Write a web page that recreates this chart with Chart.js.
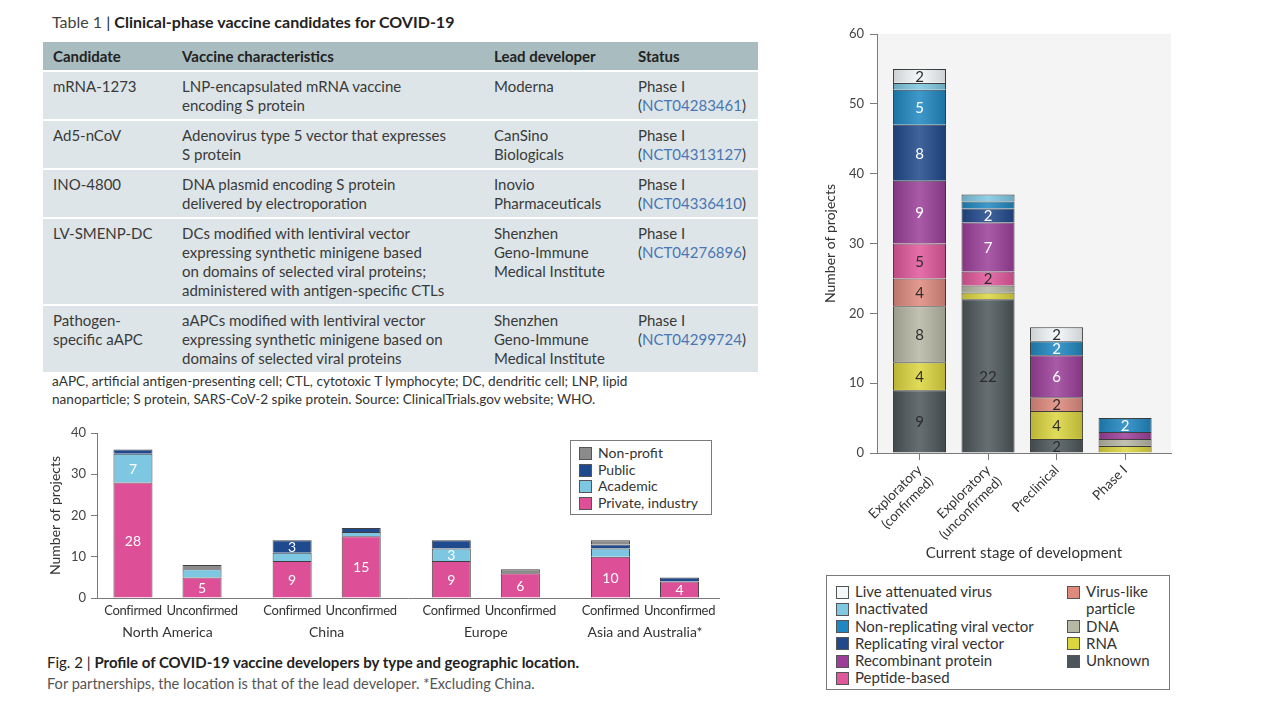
<!DOCTYPE html>
<html>
<head>
<meta charset="utf-8">
<script src="https://cdn.jsdelivr.net/npm/chart.js@4.4.1/dist/chart.umd.min.js"></script>
<style>
  body { margin: 0; width: 1280px; height: 720px; background: #fff; position: relative; overflow: hidden;
         font-family: Lato, "Open Sans", sans-serif; color: #3a3a3a; }
  .abs { position: absolute; }
  #t1title { left: 52px; top: 12px; font-size: 16px; color: #222; white-space: nowrap; }
  #t1title .lt { color: #444; }
  #t1 { left: 43px; top: 42px; width: 715px; border-collapse: separate; border-spacing: 0; font-size: 15px; line-height: 19px; }
  #t1 th { background: #a9bdc1; text-align: left; font-weight: bold; color: #222; height: 28px; padding: 0 0 0 10px; }
  #t1 td { background: #dde5e8; vertical-align: top; padding: 5px 4px 4px 10px; border-top: 2px solid #fff; white-space: nowrap; }
  #t1 .nct { color: #4a76b3; }
  #foot { left: 52px; top: 372px; font-size: 13.6px; line-height: 18px; color: #333; white-space: nowrap; }
  #cap { left: 47px; top: 652px; font-size: 15px; line-height: 21px; color: #222; white-space: nowrap; }
  #cap .sub { color: #555; font-size: 14.6px; }
  #leftChart { left: 40px; top: 420px; }
  #rightChart { left: 800px; top: 20px; }
  .legend { border: 1px solid #7a7a7a; box-sizing: border-box; background: #fff; color: #333; }
  .legend .item { display: flex; align-items: flex-start; }
  .legend .sw { width: 11px; height: 11px; border: 1px solid #555; flex: none; margin-right: 6px; }
  #devLegend { left: 570px; top: 440px; width: 142px; height: 75px; padding: 4px 0 0 8px; font-size: 14px; line-height: 16.5px; }
  #devLegend .sw { margin-top: 2px; }
  #typeLegend { left: 826px; top: 575px; width: 344px; height: 115px; padding: 7px 0 0 9px; font-size: 15px; line-height: 17.3px;
                display: flex; }
  #typeLegend .sw { margin-top: 2.5px; }
  #typeLegend .col1 { width: 231px; }
  #typeLegend .col2 { width: 98px; }
</style>
</head>
<body>

<div id="t1title" class="abs"><span class="lt">Table 1</span> | <b>Clinical-phase vaccine candidates for COVID-19</b></div>
<table id="t1" class="abs">
  <colgroup><col style="width:129px"><col style="width:312px"><col style="width:144px"><col style="width:130px"></colgroup>
  <tr><th>Candidate</th><th>Vaccine characteristics</th><th>Lead developer</th><th>Status</th></tr>
  <tr><td>mRNA-1273</td><td>LNP-encapsulated mRNA vaccine<br>encoding S protein</td><td>Moderna</td><td>Phase I<br>(<span class="nct">NCT04283461</span>)</td></tr>
  <tr><td>Ad5-nCoV</td><td>Adenovirus type 5 vector that expresses<br>S protein</td><td>CanSino<br>Biologicals</td><td>Phase I<br>(<span class="nct">NCT04313127</span>)</td></tr>
  <tr><td>INO-4800</td><td>DNA plasmid encoding S protein<br>delivered by electroporation</td><td>Inovio<br>Pharmaceuticals</td><td>Phase I<br>(<span class="nct">NCT04336410</span>)</td></tr>
  <tr><td>LV-SMENP-DC</td><td>DCs modified with lentiviral vector<br>expressing synthetic minigene based<br>on domains of selected viral proteins;<br>administered with antigen-specific CTLs</td><td>Shenzhen<br>Geno-Immune<br>Medical Institute</td><td>Phase I<br>(<span class="nct">NCT04276896</span>)</td></tr>
  <tr><td>Pathogen-<br>specific aAPC</td><td>aAPCs modified with lentiviral vector<br>expressing synthetic minigene based on<br>domains of selected viral proteins</td><td>Shenzhen<br>Geno-Immune<br>Medical Institute</td><td>Phase I<br>(<span class="nct">NCT04299724</span>)</td></tr>
</table>
<div id="foot" class="abs">aAPC, artificial antigen-presenting cell; CTL, cytotoxic T lymphocyte; DC, dendritic cell; LNP, lipid<br>nanoparticle; S protein, SARS-CoV-2 spike protein. Source: ClinicalTrials.gov website; WHO.</div>

<canvas id="leftChart" class="abs" width="690" height="232"></canvas>
<div id="devLegend" class="abs legend"></div>
<div id="cap" class="abs">Fig. 2 | <b>Profile of COVID-19 vaccine developers by type and geographic location.</b><br><span class="sub">For partnerships, the location is that of the lead developer. *Excluding China.</span></div>

<canvas id="rightChart" class="abs" width="390" height="550"></canvas>
<div id="typeLegend" class="abs legend"><div class="col1"></div><div class="col2"></div></div>

<script>
// ---- Fig. 2: developers by type and location ----
const regions = ['North America', 'China', 'Europe', 'Asia and Australia*'];
const statuses = ['Confirmed', 'Unconfirmed'];
const devTypes = ['Private, industry', 'Academic', 'Public', 'Non-profit'];   // bottom to top
const privateConfirmed     = [28, 9, 9, 10];
const privateUnconfirmed   = [5, 15, 6, 4];
const academicConfirmed    = [7, 2, 3, 2];
const academicUnconfirmed  = [2, 1, 0, 0];
const publicConfirmed      = [1, 3, 2, 1];
const publicUnconfirmed    = [0, 1, 0, 1];
const nonProfitConfirmed   = [0, 0, 0, 1];
const nonProfitUnconfirmed = [1, 0, 1, 0];
const devTicks = [0, 10, 20, 30, 40];

// ---- Stage of development by vaccine type ----
const stages = [['Exploratory', '(confirmed)'], ['Exploratory', '(unconfirmed)'], 'Preclinical', 'Phase I'];
const vaccineTypes = ['Unknown', 'RNA', 'DNA', 'Virus-like particle', 'Peptide-based', 'Recombinant protein',
                      'Replicating viral vector', 'Non-replicating viral vector', 'Inactivated', 'Live attenuated virus'];
const unknownType    = [9, 22, 2, 0];
const rnaType        = [4, 1, 4, 1];
const dnaType        = [8, 1, 0, 1];
const vlpType        = [4, 0, 2, 0];
const peptideType    = [5, 2, 0, 0];
const recombinant    = [9, 7, 6, 1];
const replicating    = [8, 2, 0, 0];
const nonReplicating = [5, 1, 2, 2];
const inactivated    = [1, 1, 0, 0];
const liveAttenuated = [2, 0, 2, 0];
const stageTicks = [0, 10, 20, 30, 40, 50, 60];

const devSeries = {
  'Private, industry': [privateConfirmed, privateUnconfirmed],
  'Academic': [academicConfirmed, academicUnconfirmed],
  'Public': [publicConfirmed, publicUnconfirmed],
  'Non-profit': [nonProfitConfirmed, nonProfitUnconfirmed]
};
const typeSeries = {
  'Unknown': unknownType, 'RNA': rnaType, 'DNA': dnaType, 'Virus-like particle': vlpType,
  'Peptide-based': peptideType, 'Recombinant protein': recombinant, 'Replicating viral vector': replicating,
  'Non-replicating viral vector': nonReplicating, 'Inactivated': inactivated, 'Live attenuated virus': liveAttenuated
};

const devColors = {
  'Private, industry': '#dd4f96', 'Academic': '#7dc7e2', 'Public': '#1f4a8e', 'Non-profit': '#8b8b8b'
};
const typeColors = {
  'Unknown': '#4c565a', 'RNA': '#dbd53e', 'DNA': '#b7b7a5', 'Virus-like particle': '#de8a7d',
  'Peptide-based': '#e0579b', 'Recombinant protein': '#9b3f99', 'Replicating viral vector': '#21498b',
  'Non-replicating viral vector': '#1f87c1', 'Inactivated': '#7ec8e2', 'Live attenuated virus': '#f3f7f9'
};
const whiteText = ['Recombinant protein', 'Replicating viral vector', 'Non-replicating viral vector'];

const FONT = 'Lato, "Open Sans", sans-serif';
const axisColor = '#7a7a7a';

// numbers written inside the bar segments
function valueLabels(minValue, fontSize, colorFor) {
  return {
    id: 'valueLabels',
    afterDatasetsDraw(chart) {
      const ctx = chart.ctx;
      ctx.save();
      ctx.font = fontSize + 'px ' + FONT;
      ctx.textAlign = 'center';
      ctx.textBaseline = 'middle';
      chart.data.datasets.forEach((ds, d) => {
        chart.getDatasetMeta(d).data.forEach((bar, i) => {
          const v = ds.data[i].y;
          if (v == null || v < minValue) return;
          ctx.fillStyle = colorFor(ds);
          ctx.fillText(String(v), bar.x, (bar.y + bar.base) / 2 + 1);
        });
      });
      ctx.restore();
    }
  };
}

// ---------- left chart ----------
const devDatasets = [];
devTypes.forEach(t => {
  statuses.forEach((s, k) => {
    devDatasets.push({
      label: t,
      stack: s,
      data: devSeries[t][k].map((v, i) => ({ x: i, y: v || null })),
      backgroundColor: devColors[t],
      borderColor: '#404040',
      borderWidth: 1,
      categoryPercentage: 0.868,
      barPercentage: 0.565
    });
  });
});

const statusLabels = {
  id: 'statusLabels',
  afterDraw(chart) {
    const ctx = chart.ctx;
    ctx.save();
    ctx.font = '13px ' + FONT;
    ctx.letterSpacing = '-0.3px';
    ctx.fillStyle = '#333';
    ctx.textAlign = 'center';
    ctx.textBaseline = 'middle';
    statuses.forEach((s, k) => {
      chart.getDatasetMeta(k).data.forEach(bar => {
        ctx.fillText(s, bar.x, chart.chartArea.bottom + 13);
      });
    });
    ctx.restore();
  }
};

new Chart(document.getElementById('leftChart').getContext('2d'), {
  type: 'bar',
  data: { datasets: devDatasets },
  options: {
    responsive: false,
    animation: false,
    layout: { padding: { top: 13, right: 11, left: 0, bottom: 0 } },
    plugins: { legend: { display: false }, tooltip: { enabled: false } },
    scales: {
      x: {
        type: 'linear',
        min: -0.443,
        max: 3.465,
        offset: false,
        grid: { display: false, drawTicks: false, offset: false },
        border: { display: true, color: axisColor },
        afterBuildTicks: axis => { axis.ticks = regions.map((r, i) => ({ value: i })); },
        afterFit: scale => { scale.height = 54; },
        ticks: {
          autoSkip: false,
          maxRotation: 0,
          padding: 26,
          color: '#333',
          font: { family: FONT, size: 14 },
          callback: v => regions[v]
        }
      },
      y: {
        stacked: true,
        min: 0,
        max: 40,
        afterBuildTicks: axis => { axis.ticks = devTicks.map(v => ({ value: v })); },
        afterFit: scale => { scale.width = 57; },
        grid: { drawOnChartArea: false, drawTicks: true, tickLength: 6, color: axisColor },
        border: { display: true, color: axisColor },
        ticks: { padding: 5, color: '#444', font: { family: FONT, size: 13 } },
        title: {
          display: true,
          text: 'Number of projects',
          color: '#333',
          font: { family: FONT, size: 14 },
          padding: { top: 7, bottom: 0 }
        }
      }
    }
  },
  plugins: [valueLabels(3, 14, () => '#fff'), statusLabels]
});

const devLegend = document.getElementById('devLegend');
devTypes.slice().reverse().forEach(t => {
  devLegend.insertAdjacentHTML('beforeend',
    '<div class="item"><span class="sw" style="background:' + devColors[t] + '"></span>' + t + '</div>');
});

// ---------- right chart ----------
const typeDatasets = vaccineTypes.map(t => ({
  label: t,
  stack: 'stage',
  data: typeSeries[t].map((v, i) => ({ x: i, y: v || null })),
  backgroundColor: typeColors[t],
  borderColor: '#3a3a3a',
  borderWidth: 1,
  categoryPercentage: 1,
  barPercentage: 0.774
}));

const plotBackground = {
  id: 'plotBackground',
  beforeDraw(chart) {
    const { ctx, chartArea: a } = chart;
    ctx.save();
    ctx.fillStyle = '#f4f4f4';
    ctx.fillRect(a.left, a.top, a.right - a.left, a.bottom - a.top);
    ctx.restore();
  }
};

// soft cylinder shading on each segment
const barShading = {
  id: 'barShading',
  afterDatasetsDraw(chart) {
    const ctx = chart.ctx;
    ctx.save();
    chart.data.datasets.forEach((ds, d) => {
      chart.getDatasetMeta(d).data.forEach(bar => {
        const { x, y, base, width } = bar.getProps(['x', 'y', 'base', 'width'], true);
        if (!isFinite(y) || Math.abs(base - y) < 0.5) return;
        const left = x - width / 2;
        const g = ctx.createLinearGradient(left, 0, left + width, 0);
        g.addColorStop(0, 'rgba(0,0,0,0.16)');
        g.addColorStop(0.5, 'rgba(255,255,255,0.14)');
        g.addColorStop(1, 'rgba(0,0,0,0.16)');
        ctx.fillStyle = g;
        ctx.fillRect(left + 1, Math.min(y, base) + 0.5, width - 2, Math.abs(base - y) - 1);
      });
    });
    ctx.restore();
  }
};

new Chart(document.getElementById('rightChart').getContext('2d'), {
  type: 'bar',
  data: { datasets: typeDatasets },
  options: {
    responsive: false,
    animation: false,
    layout: { padding: { top: 14, right: 19, left: 0, bottom: 0 } },
    plugins: { legend: { display: false }, tooltip: { enabled: false } },
    scales: {
      x: {
        type: 'linear',
        min: -0.62,
        max: 3.67,
        offset: false,
        grid: { drawOnChartArea: false, drawTicks: true, tickLength: 7, color: axisColor, offset: false },
        border: { display: true, color: axisColor },
        afterBuildTicks: axis => { axis.ticks = stages.map((s, i) => ({ value: i })); },
        afterFit: scale => { scale.height = 117; },
        ticks: {
          autoSkip: false,
          minRotation: 45,
          maxRotation: 45,
          padding: 2,
          color: '#333',
          font: { family: FONT, size: 13.5 },
          callback: v => stages[v]
        },
        title: {
          display: true,
          text: 'Current stage of development',
          color: '#333',
          font: { family: FONT, size: 15 },
          padding: { top: 0, bottom: 8 }
        }
      },
      y: {
        stacked: true,
        min: 0,
        max: 60,
        afterBuildTicks: axis => { axis.ticks = stageTicks.map(v => ({ value: v })); },
        afterFit: scale => { scale.width = 77; },
        grid: { drawOnChartArea: false, drawTicks: true, tickLength: 7, color: axisColor },
        border: { display: true, color: axisColor },
        ticks: { padding: 6, color: '#444', font: { family: FONT, size: 13 } },
        title: {
          display: true,
          text: 'Number of projects',
          color: '#333',
          font: { family: FONT, size: 14 },
          padding: { top: 22, bottom: 0 }
        }
      }
    }
  },
  plugins: [plotBackground, barShading,
            valueLabels(2, 15, ds => whiteText.includes(ds.label) ? '#fff' : '#2c2c2c')]
});

const legendOrder = vaccineTypes.slice().reverse();
const col1 = document.querySelector('#typeLegend .col1');
const col2 = document.querySelector('#typeLegend .col2');
legendOrder.forEach((t, i) => {
  (i < 6 ? col1 : col2).insertAdjacentHTML('beforeend',
    '<div class="item"><span class="sw" style="background:' + typeColors[t] + '"></span><span>' + t + '</span></div>');
});
</script>
</body>
</html>
